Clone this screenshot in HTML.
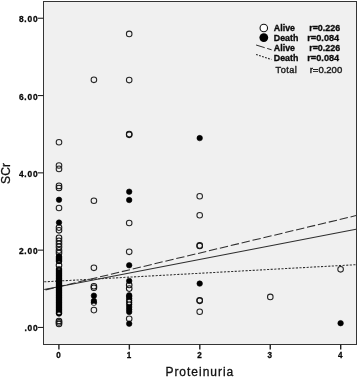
<!DOCTYPE html>
<html><head><meta charset="utf-8"><title>SCr vs Proteinuria</title>
<style>
html,body{margin:0;padding:0;background:#fff}
svg{display:block}
text{font-family:"Liberation Sans",Arial,Helvetica,sans-serif}
.b{font-weight:bold;fill:#0a0a0a;stroke:#0a0a0a;stroke-width:.3}
.o{fill:none;stroke:#262626;stroke-width:1.05}
.n{fill:none;stroke:#161616;stroke-width:1.05}
.f{fill:#000;stroke:#000;stroke-width:.6}
</style></head><body>
<svg width="358" height="378" viewBox="0 0 358 378">
<rect x="0" y="0" width="358" height="378" fill="#fff"/>
<rect x="43.5" y="1.5" width="313" height="343" fill="#f0f0f0" stroke="#343434" stroke-width="1"/>
<line x1="37.9" y1="18.25" x2="43.6" y2="18.25" stroke="#222" stroke-width="1.1"/>
<text class="b" x="37.6" y="22.25" font-size="8.4" text-anchor="end" textLength="18.7" lengthAdjust="spacing">8.00</text>
<line x1="37.9" y1="95.55" x2="43.6" y2="95.55" stroke="#222" stroke-width="1.1"/>
<text class="b" x="37.6" y="99.55" font-size="8.4" text-anchor="end" textLength="18.7" lengthAdjust="spacing">6.00</text>
<line x1="37.9" y1="172.85" x2="43.6" y2="172.85" stroke="#222" stroke-width="1.1"/>
<text class="b" x="37.6" y="176.85" font-size="8.4" text-anchor="end" textLength="18.7" lengthAdjust="spacing">4.00</text>
<line x1="37.9" y1="250.15" x2="43.6" y2="250.15" stroke="#222" stroke-width="1.1"/>
<text class="b" x="37.6" y="254.15" font-size="8.4" text-anchor="end" textLength="18.7" lengthAdjust="spacing">2.00</text>
<line x1="37.9" y1="327.45" x2="43.6" y2="327.45" stroke="#222" stroke-width="1.1"/>
<text class="b" x="37.6" y="331.45" font-size="8.4" text-anchor="end" textLength="13.1" lengthAdjust="spacing">.00</text>
<line x1="58.90" y1="344.5" x2="58.90" y2="349.6" stroke="#222" stroke-width="1.4"/>
<text class="b" x="56.25" y="358.2" font-size="8.4" textLength="4.5" lengthAdjust="spacingAndGlyphs">0</text>
<line x1="129.35" y1="344.5" x2="129.35" y2="349.6" stroke="#222" stroke-width="1.4"/>
<text class="b" x="126.70" y="358.2" font-size="8.4" textLength="4.5" lengthAdjust="spacingAndGlyphs">1</text>
<line x1="199.80" y1="344.5" x2="199.80" y2="349.6" stroke="#222" stroke-width="1.4"/>
<text class="b" x="197.15" y="358.2" font-size="8.4" textLength="4.5" lengthAdjust="spacingAndGlyphs">2</text>
<line x1="270.25" y1="344.5" x2="270.25" y2="349.6" stroke="#222" stroke-width="1.4"/>
<text class="b" x="267.60" y="358.2" font-size="8.4" textLength="4.5" lengthAdjust="spacingAndGlyphs">3</text>
<line x1="340.70" y1="344.5" x2="340.70" y2="349.6" stroke="#222" stroke-width="1.4"/>
<text class="b" x="338.05" y="358.2" font-size="8.4" textLength="4.5" lengthAdjust="spacingAndGlyphs">4</text>
<text x="165.4" y="376.2" font-size="12" fill="#111" stroke="#111" stroke-width=".3" textLength="67.9" lengthAdjust="spacing">Proteinuria</text>
<text transform="translate(10.2,183.9) rotate(-90)" font-size="12" fill="#111" stroke="#111" stroke-width=".3" textLength="20.8" lengthAdjust="spacing">SCr</text>
<g stroke="#2e2e2e" stroke-width="1.05" fill="none">
<line x1="44.2" y1="281.8" x2="356" y2="264.7" stroke-dasharray="2.15 1.45"/>
<line x1="44.2" y1="289.6" x2="356" y2="229.3"/>
<line x1="356" y1="215.6" x2="44.2" y2="290.2" stroke-dasharray="8.4 2.8" stroke-dashoffset="2.8"/>
</g>
<circle class="o" cx="59.0" cy="142.2" r="2.80"/>
<circle class="o" cx="59.0" cy="165.5" r="2.80"/>
<circle class="o" cx="59.0" cy="168.9" r="2.80"/>
<circle class="n" cx="59.0" cy="185.9" r="2.80"/>
<circle class="n" cx="59.0" cy="188.0" r="2.80"/>
<circle class="f" cx="59.0" cy="199.8" r="2.75"/>
<circle class="o" cx="59.0" cy="208.0" r="2.80"/>
<circle class="n" cx="59.0" cy="227.6" r="2.80"/>
<circle class="n" cx="59.0" cy="230.3" r="2.80"/>
<circle class="f" cx="59.0" cy="222.6" r="2.75"/>
<circle class="n" cx="59.0" cy="237.9" r="2.80"/>
<circle class="n" cx="59.0" cy="240.9" r="2.80"/>
<circle class="n" cx="59.0" cy="243.9" r="2.80"/>
<circle class="n" cx="59.0" cy="246.9" r="2.80"/>
<circle class="n" cx="59.0" cy="250.4" r="2.80"/>
<circle class="n" cx="59.0" cy="253.0" r="2.80"/>
<circle class="f" cx="59.0" cy="256.4" r="2.75"/>
<circle class="f" cx="59.0" cy="257.1" r="2.75"/>
<circle class="f" cx="59.0" cy="257.9" r="2.75"/>
<circle class="f" cx="59.0" cy="258.6" r="2.75"/>
<circle class="f" cx="59.0" cy="259.4" r="2.75"/>
<circle class="f" cx="59.0" cy="260.1" r="2.75"/>
<circle class="f" cx="59.0" cy="260.9" r="2.75"/>
<circle class="f" cx="59.0" cy="261.6" r="2.75"/>
<circle class="f" cx="59.0" cy="268.9" r="2.75"/>
<circle class="f" cx="59.0" cy="269.8" r="2.75"/>
<circle class="f" cx="59.0" cy="270.6" r="2.75"/>
<circle class="f" cx="59.0" cy="271.5" r="2.75"/>
<circle class="f" cx="59.0" cy="272.3" r="2.75"/>
<circle class="f" cx="59.0" cy="273.2" r="2.75"/>
<circle class="f" cx="59.0" cy="274.0" r="2.75"/>
<circle class="f" cx="59.0" cy="274.9" r="2.75"/>
<circle class="f" cx="59.0" cy="275.7" r="2.75"/>
<circle class="f" cx="59.0" cy="276.6" r="2.75"/>
<circle class="f" cx="59.0" cy="277.4" r="2.75"/>
<circle class="f" cx="59.0" cy="278.3" r="2.75"/>
<circle class="f" cx="59.0" cy="279.1" r="2.75"/>
<circle class="f" cx="59.0" cy="280.0" r="2.75"/>
<circle class="f" cx="59.0" cy="280.8" r="2.75"/>
<circle class="f" cx="59.0" cy="281.7" r="2.75"/>
<circle class="f" cx="59.0" cy="282.5" r="2.75"/>
<circle class="f" cx="59.0" cy="283.4" r="2.75"/>
<circle class="f" cx="59.0" cy="284.2" r="2.75"/>
<circle class="f" cx="59.0" cy="285.1" r="2.75"/>
<circle class="f" cx="59.0" cy="285.9" r="2.75"/>
<circle class="f" cx="59.0" cy="286.8" r="2.75"/>
<circle class="f" cx="59.0" cy="287.6" r="2.75"/>
<circle class="f" cx="59.0" cy="288.5" r="2.75"/>
<circle class="f" cx="59.0" cy="289.3" r="2.75"/>
<circle class="f" cx="59.0" cy="290.2" r="2.75"/>
<circle class="f" cx="59.0" cy="291.0" r="2.75"/>
<circle class="f" cx="59.0" cy="291.9" r="2.75"/>
<circle class="f" cx="59.0" cy="292.7" r="2.75"/>
<circle class="f" cx="59.0" cy="293.6" r="2.75"/>
<circle class="f" cx="59.0" cy="294.4" r="2.75"/>
<circle class="f" cx="59.0" cy="295.3" r="2.75"/>
<circle class="f" cx="59.0" cy="296.1" r="2.75"/>
<circle class="f" cx="59.0" cy="297.0" r="2.75"/>
<circle class="f" cx="59.0" cy="297.8" r="2.75"/>
<circle class="f" cx="59.0" cy="298.7" r="2.75"/>
<circle class="f" cx="59.0" cy="299.5" r="2.75"/>
<circle class="f" cx="59.0" cy="300.4" r="2.75"/>
<circle class="f" cx="59.0" cy="301.2" r="2.75"/>
<circle class="f" cx="59.0" cy="302.1" r="2.75"/>
<circle class="f" cx="59.0" cy="302.9" r="2.75"/>
<circle class="f" cx="59.0" cy="303.8" r="2.75"/>
<circle class="f" cx="59.0" cy="304.6" r="2.75"/>
<circle class="f" cx="59.0" cy="305.5" r="2.75"/>
<circle class="f" cx="59.0" cy="306.3" r="2.75"/>
<circle class="f" cx="59.0" cy="307.2" r="2.75"/>
<circle class="f" cx="59.0" cy="308.0" r="2.75"/>
<circle class="f" cx="59.0" cy="308.9" r="2.75"/>
<circle class="f" cx="59.0" cy="309.7" r="2.75"/>
<circle class="f" cx="59.0" cy="310.6" r="2.75"/>
<circle class="f" cx="59.0" cy="311.4" r="2.75"/>
<circle class="f" cx="59.0" cy="312.3" r="2.75"/>
<circle class="f" cx="59.0" cy="313.1" r="2.75"/>
<circle class="f" cx="59.0" cy="313.6" r="2.75"/>
<ellipse cx="59.0" cy="261.9" rx="1.4" ry="0.6" fill="#6a6a6a"/>
<rect x="56.4" y="264.1" width="5.2" height="2.1" fill="#f2f2f2"/>
<circle class="n" cx="59.0" cy="265.2" r="2.80"/>
<ellipse cx="59.0" cy="269.0" rx="1.4" ry="0.6" fill="#6a6a6a"/>
<ellipse cx="59.0" cy="313.3" rx="1.7" ry="0.85" fill="#dcdcdc"/>
<circle class="n" cx="59.0" cy="321.0" r="2.80"/>
<circle class="n" cx="59.0" cy="322.4" r="2.80"/>
<circle class="n" cx="59.0" cy="323.9" r="2.80"/>
<circle class="o" cx="93.9" cy="79.8" r="2.80"/>
<circle class="o" cx="93.9" cy="200.7" r="2.80"/>
<circle class="o" cx="93.9" cy="267.8" r="2.80"/>
<circle class="n" cx="93.9" cy="286.2" r="2.80"/>
<circle class="n" cx="93.9" cy="287.7" r="2.80"/>
<circle class="f" cx="93.9" cy="295.7" r="2.75"/>
<circle class="f" cx="93.9" cy="300.9" r="2.75"/>
<circle class="f" cx="93.9" cy="302.7" r="2.75"/>
<ellipse cx="93.9" cy="304.3" rx="1.7" ry="0.85" fill="#dcdcdc"/>
<circle class="o" cx="93.9" cy="310.1" r="2.80"/>
<circle class="o" cx="129.2" cy="33.9" r="2.80"/>
<circle class="o" cx="129.2" cy="80.1" r="2.80"/>
<circle class="n" cx="129.2" cy="134.1" r="2.80"/>
<circle class="n" cx="129.2" cy="134.8" r="2.80"/>
<circle class="f" cx="129.2" cy="191.7" r="2.75"/>
<circle class="f" cx="129.2" cy="200.0" r="2.75"/>
<circle class="o" cx="129.2" cy="223.0" r="2.80"/>
<circle class="o" cx="129.2" cy="251.8" r="2.80"/>
<circle class="f" cx="129.2" cy="265.3" r="2.75"/>
<circle class="n" cx="129.2" cy="285.0" r="2.80"/>
<circle class="n" cx="129.2" cy="288.6" r="2.80"/>
<circle class="f" cx="129.2" cy="280.9" r="2.75"/>
<circle class="f" cx="129.2" cy="295.3" r="2.75"/>
<circle class="f" cx="129.2" cy="296.6" r="2.75"/>
<circle class="f" cx="129.2" cy="298.6" r="2.75"/>
<circle class="f" cx="129.2" cy="300.6" r="2.75"/>
<circle class="f" cx="129.2" cy="302.6" r="2.75"/>
<circle class="f" cx="129.2" cy="304.6" r="2.75"/>
<circle class="f" cx="129.2" cy="307.0" r="2.75"/>
<circle class="f" cx="129.2" cy="309.5" r="2.75"/>
<circle class="f" cx="129.2" cy="311.9" r="2.75"/>
<ellipse cx="129.2" cy="300.7" rx="1.7" ry="0.85" fill="#dcdcdc"/>
<ellipse cx="129.2" cy="303.3" rx="1.7" ry="0.85" fill="#dcdcdc"/>
<circle class="o" cx="129.2" cy="318.8" r="2.80"/>
<circle class="f" cx="129.2" cy="323.7" r="2.75"/>
<circle class="f" cx="199.7" cy="138.1" r="2.75"/>
<circle class="o" cx="199.7" cy="196.2" r="2.80"/>
<circle class="o" cx="199.7" cy="215.2" r="2.80"/>
<circle class="n" cx="199.7" cy="245.4" r="2.80"/>
<circle class="n" cx="199.7" cy="246.0" r="2.80"/>
<circle class="f" cx="199.7" cy="283.6" r="2.75"/>
<circle class="n" cx="199.7" cy="300.2" r="2.80"/>
<circle class="n" cx="199.7" cy="300.8" r="2.80"/>
<circle class="o" cx="199.7" cy="311.7" r="2.80"/>
<circle class="o" cx="270.3" cy="296.9" r="2.80"/>
<circle class="o" cx="340.6" cy="269.3" r="2.80"/>
<circle class="f" cx="340.6" cy="323.2" r="2.75"/>
<circle cx="263.8" cy="28.0" r="3.75" fill="#fff" stroke="#111" stroke-width="1.1"/>
<circle cx="263.8" cy="37.6" r="4.4" fill="#000"/>
<line x1="256.1" y1="45.0" x2="271.6" y2="49.8" stroke="#2b2b2b" stroke-width="1.0" stroke-dasharray="9 2.6 20"/>
<line x1="256.1" y1="54.5" x2="271.4" y2="59.5" stroke="#222" stroke-width="1.15" stroke-dasharray="1.8 1.35"/>
<text class="b" x="273.8" y="31.4" font-size="8.7" textLength="21.2" lengthAdjust="spacingAndGlyphs">Alive</text>
<text class="b" x="309.2" y="31.4" font-size="8.7" textLength="31.0" lengthAdjust="spacingAndGlyphs">r=0.226</text>
<text class="b" x="273.8" y="41.3" font-size="8.7" textLength="24.6" lengthAdjust="spacingAndGlyphs">Death</text>
<text class="b" x="307.3" y="41.3" font-size="8.7" textLength="31.9" lengthAdjust="spacingAndGlyphs">r=0.084</text>
<text class="b" x="273.8" y="51.1" font-size="8.7" textLength="21.2" lengthAdjust="spacingAndGlyphs">Alive</text>
<text class="b" x="309.2" y="51.1" font-size="8.7" textLength="31.0" lengthAdjust="spacingAndGlyphs">r=0.226</text>
<text class="b" x="273.8" y="60.8" font-size="8.7" textLength="24.6" lengthAdjust="spacingAndGlyphs">Death</text>
<text class="b" x="307.3" y="60.8" font-size="8.7" textLength="31.9" lengthAdjust="spacingAndGlyphs">r=0.084</text>
<text x="275.6" y="72.8" font-size="9.2" fill="#222" stroke="#222" stroke-width=".42" textLength="21.3" lengthAdjust="spacing">Total</text>
<text x="309.7" y="72.8" font-size="9.2" fill="#222" stroke="#222" stroke-width=".42" textLength="32.5" lengthAdjust="spacingAndGlyphs">r=0.200</text>
</svg>
</body></html>
